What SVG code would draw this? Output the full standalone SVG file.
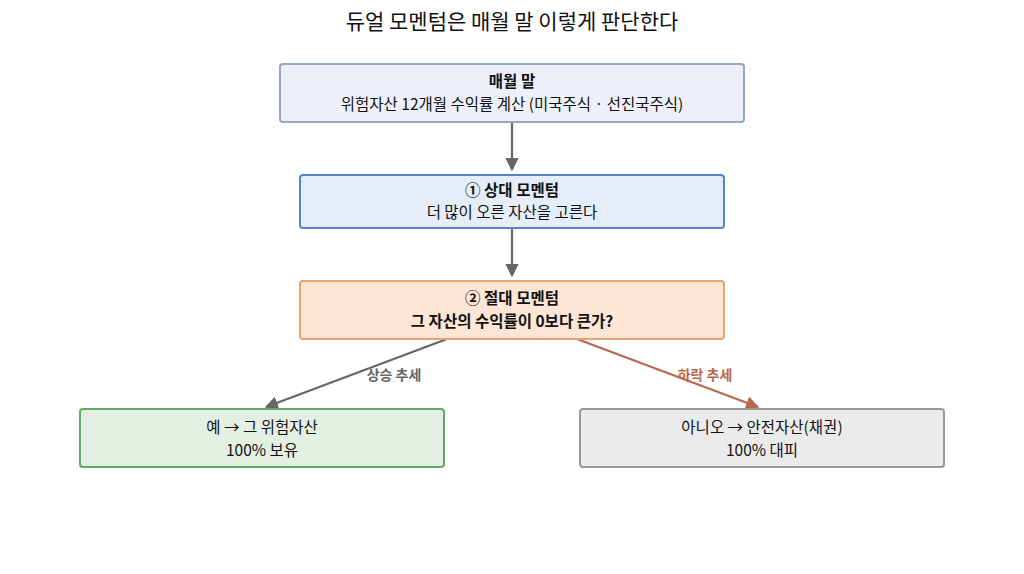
<svg xmlns="http://www.w3.org/2000/svg" width="1024" height="574" viewBox="0 0 1024 574">
<style>
text{font-family:"Noto Sans CJK KR","Noto Sans",sans-serif;font-size:15.5px;fill:#111;text-anchor:middle}
.b{font-weight:bold}
.l{font-size:14px;font-weight:bold}
</style>
<defs>
<marker id="ag" viewBox="0 0 10 10" refX="9" refY="5" markerWidth="6" markerHeight="6" orient="auto"><path d="M0,0L10,5L0,10z" fill="#666"/></marker>
<marker id="ab" viewBox="0 0 10 10" refX="9" refY="5" markerWidth="6" markerHeight="6" orient="auto"><path d="M0,0L10,5L0,10z" fill="#b5694a"/></marker>
</defs>
<rect width="1024" height="574" fill="#fff"/>
<text x="512" y="29" style="font-size:21px">듀얼 모멘텀은 매월 말 이렇게 판단한다</text>
<g id="connectors" stroke-width="2.2" fill="none">
<line x1="512" y1="122" x2="512" y2="170" stroke="#666" marker-end="url(#ag)"/>
<line x1="512" y1="228" x2="512" y2="276" stroke="#666" marker-end="url(#ag)"/>
<line x1="447" y1="339" x2="266" y2="407" stroke="#666" marker-end="url(#ag)"/>
<line x1="577" y1="339" x2="758" y2="407" stroke="#b5694a" marker-end="url(#ab)"/>
<text x="394" y="380" class="l" style="fill:#666">상승 추세</text>
<text x="705" y="380" class="l" style="fill:#b5694a">하락 추세</text>
</g>
<g id="n1"><rect x="280" y="64" width="464" height="58" rx="3" fill="#edf0f8" stroke="#97a7c6" stroke-width="2"/>
<text x="512" y="87" class="b">매월 말</text><text x="512" y="110">위험자산 12개월 수익률 계산 (미국주식 · 선진국주식)</text></g>
<g id="n2"><rect x="300" y="175" width="424" height="53" rx="3" fill="#e5edf9" stroke="#5a80c6" stroke-width="2"/>
<text x="512" y="196" class="b">① 상대 모멘텀</text><text x="512" y="218">더 많이 오른 자산을 고른다</text></g>
<g id="n3"><rect x="300" y="281" width="424" height="58" rx="3" fill="#fde6d6" stroke="#e8a66c" stroke-width="2"/>
<text x="512" y="304" class="b">② 절대 모멘텀</text><text x="512" y="327" class="b">그 자산의 수익률이 0보다 큰가?</text></g>
<g id="n4"><rect x="80" y="409" width="364" height="58" rx="3" fill="#e2efe2" stroke="#5fa866" stroke-width="2"/>
<text x="262" y="433">예 → 그 위험자산</text><text x="262" y="456">100% 보유</text></g>
<g id="n5"><rect x="580" y="409" width="364" height="58" rx="3" fill="#ebebeb" stroke="#999" stroke-width="2"/>
<text x="762" y="433">아니오 → 안전자산(채권)</text><text x="762" y="456">100% 대피</text></g>
</svg>
